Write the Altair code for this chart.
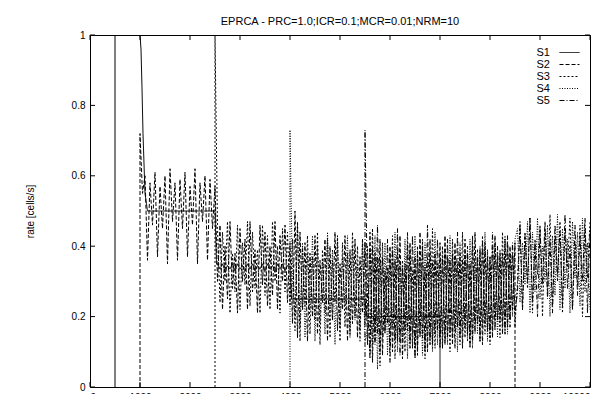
import altair as alt
import pandas as pd

FONT = "Liberation Sans"
TITLE = "EPRCA - PRC=1.0;ICR=0.1;MCR=0.01;NRM=10"
Y_TITLE = "rate [cells/s]"
SERIES = ["S1", "S2", "S3", "S4", "S5"]
DASHES = [[1, 0], [4, 2], [2, 2], [1, 1.5], [5, 2, 1, 2]]
X_TICKS = [0, 1000, 2000, 3000, 4000, 5000, 6000, 7000, 8000, 9000, 10000]
Y_TICKS = [0, 0.2, 0.4, 0.6, 0.8, 1.0]
STEP = 50  # sampling interval of the rate traces

# S1: mostly steady
S1_HEAD_T = [500, 500, 1000, 1020, 1040, 1060, 1100, 1150, 2500, 2530]
S1_HEAD_V = [0.0, 1.0, 1.0, 0.96, 0.85, 0.72, 0.55, 0.50, 0.50, 0.35]
S1_MID_T0 = 2550
S1_MID_V = [0.35, 0.335, 0.35, 0.33, 0.345, 0.335, 0.35, 0.33, 0.35, 0.335,
            0.345, 0.33, 0.35, 0.335, 0.35, 0.33, 0.345, 0.335, 0.35, 0.33,
            0.35, 0.335, 0.345, 0.33, 0.35, 0.335, 0.35, 0.33, 0.345, 0.34]
S1_TAIL_T = [4030, 5500, 5530, 7000, 7000]
S1_TAIL_V = [0.25, 0.25, 0.20, 0.20, 0.0]

S2_T0, S2_END = 1000, 8500
S2_V = [
    0.72, 0.55, 0.60, 0.36, 0.58, 0.46, 0.61, 0.37, 0.57, 0.45, 0.60, 0.35, 0.62, 0.47, 0.58, 0.36,
    0.59, 0.45, 0.61, 0.37, 0.57, 0.46, 0.62, 0.35, 0.58, 0.47, 0.60, 0.36, 0.59, 0.45, 0.57,
    0.30, 0.46, 0.22, 0.40, 0.25, 0.47, 0.28, 0.38, 0.21, 0.45, 0.30, 0.42, 0.22, 0.47, 0.27,
    0.39, 0.21, 0.46, 0.29, 0.44, 0.23, 0.40, 0.26, 0.47, 0.22, 0.43, 0.30, 0.46, 0.24, 0.41,
    0.18, 0.50, 0.14, 0.44, 0.22, 0.41, 0.13, 0.38, 0.20, 0.43, 0.15, 0.36, 0.24, 0.42, 0.13,
    0.40, 0.19, 0.44, 0.16, 0.35, 0.22, 0.43, 0.13, 0.39, 0.18, 0.42, 0.14, 0.37, 0.21, 0.41,
    0.12, 0.44, 0.07, 0.38, 0.15, 0.42, 0.09, 0.33, 0.18, 0.40, 0.10, 0.36, 0.13, 0.43, 0.08,
    0.35, 0.16, 0.41, 0.11, 0.37, 0.09, 0.44, 0.14, 0.34, 0.10, 0.42, 0.12, 0.38, 0.16, 0.41,
    0.11, 0.43, 0.14, 0.36, 0.12, 0.41, 0.17, 0.38, 0.11, 0.42, 0.15, 0.35, 0.13, 0.44, 0.18,
    0.39, 0.12, 0.41, 0.16, 0.37, 0.14, 0.43, 0.19, 0.38, 0.15, 0.42, 0.17, 0.40, 0.22, 0.41,
]

S3_T0 = 2500
S3_V = [
    1.00, 0.45, 0.24, 0.44, 0.30, 0.47, 0.21, 0.38, 0.27, 0.46, 0.22, 0.41, 0.29, 0.47, 0.23, 0.44,
    0.28, 0.39, 0.21, 0.46, 0.26, 0.43, 0.22, 0.47, 0.30, 0.40, 0.21, 0.45, 0.27, 0.44, 0.23,
    0.42, 0.16, 0.47, 0.13, 0.40, 0.23, 0.43, 0.15, 0.37, 0.19, 0.44, 0.12, 0.39, 0.21, 0.42,
    0.14, 0.36, 0.24, 0.43, 0.13, 0.41, 0.17, 0.38, 0.15, 0.44, 0.20, 0.40, 0.13, 0.42, 0.18,
    0.40, 0.10, 0.45, 0.13, 0.37, 0.06, 0.41, 0.16, 0.34, 0.11, 0.43, 0.08, 0.39, 0.14, 0.36,
    0.10, 0.44, 0.12, 0.33, 0.09, 0.40, 0.15, 0.42, 0.08, 0.37, 0.13, 0.45, 0.11, 0.35, 0.14,
    0.40, 0.13, 0.37, 0.10, 0.42, 0.16, 0.35, 0.12, 0.44, 0.14, 0.38, 0.11, 0.41, 0.17, 0.36,
    0.13, 0.43, 0.15, 0.39, 0.12, 0.40, 0.18, 0.37, 0.14, 0.44, 0.16, 0.41, 0.19, 0.38, 0.17,
    0.30, 0.47, 0.22, 0.44, 0.28, 0.48, 0.21, 0.42, 0.32, 0.46, 0.20, 0.45, 0.27, 0.49, 0.23,
    0.43, 0.30, 0.47, 0.21, 0.44, 0.34, 0.48, 0.22, 0.41, 0.29, 0.46, 0.20, 0.45, 0.31, 0.47,
]

S4_T0 = 4000
S4_V = [
    0.73, 0.30, 0.20, 0.46, 0.17, 0.41, 0.14, 0.38, 0.22, 0.43, 0.13, 0.40, 0.18, 0.36, 0.15, 0.44,
    0.21, 0.39, 0.12, 0.42, 0.17, 0.37, 0.23, 0.43, 0.14, 0.40, 0.19, 0.35, 0.16, 0.42, 0.13,
    0.16, 0.39, 0.12, 0.43, 0.05, 0.36, 0.14, 0.41, 0.09, 0.38, 0.17, 0.44, 0.10, 0.35, 0.13,
    0.42, 0.08, 0.39, 0.15, 0.43, 0.11, 0.36, 0.09, 0.41, 0.14, 0.38, 0.10, 0.44, 0.12, 0.37,
    0.15, 0.39, 0.12, 0.43, 0.14, 0.37, 0.10, 0.41, 0.16, 0.38, 0.13, 0.42, 0.11, 0.36, 0.15,
    0.40, 0.17, 0.44, 0.13, 0.37, 0.16, 0.41, 0.14, 0.39, 0.18, 0.43, 0.15, 0.38, 0.20, 0.42,
    0.45, 0.24, 0.41, 0.29, 0.47, 0.21, 0.44, 0.27, 0.48, 0.25, 0.40, 0.30, 0.46, 0.20, 0.43,
    0.26, 0.49, 0.22, 0.45, 0.28, 0.42, 0.21, 0.47, 0.31, 0.44, 0.23, 0.48, 0.27, 0.41, 0.22,
]

S5_T0 = 5500
S5_V = [
    0.73, 0.25, 0.08, 0.40, 0.12, 0.46, 0.10, 0.37, 0.15, 0.42, 0.07, 0.39, 0.13, 0.45, 0.09, 0.34,
    0.16, 0.41, 0.11, 0.43, 0.08, 0.38, 0.14, 0.40, 0.10, 0.46, 0.12, 0.36, 0.15, 0.42, 0.11,
    0.37, 0.12, 0.42, 0.16, 0.38, 0.11, 0.44, 0.14, 0.36, 0.17, 0.40, 0.12, 0.43, 0.15, 0.39,
    0.13, 0.41, 0.18, 0.37, 0.14, 0.44, 0.16, 0.40, 0.19, 0.38, 0.15, 0.43, 0.17, 0.41, 0.21,
    0.27, 0.46, 0.22, 0.43, 0.30, 0.48, 0.24, 0.41, 0.20, 0.45, 0.29, 0.47, 0.25, 0.42, 0.21,
    0.46, 0.32, 0.44, 0.23, 0.49, 0.28, 0.40, 0.22, 0.46, 0.26, 0.43, 0.30, 0.48, 0.21, 0.45,
]

rows = []


def add(name, pts):
    for t, v in pts:
        rows.append({"series": name, "t": t, "rate": v, "i": len(rows)})


def grid(t0, vals):
    return [(t0 + STEP * k, v) for k, v in enumerate(vals)]


add("S1", list(zip(S1_HEAD_T, S1_HEAD_V)) + grid(S1_MID_T0, S1_MID_V) + list(zip(S1_TAIL_T, S1_TAIL_V)))
add("S2", [(S2_T0, 0.0)] + grid(S2_T0, S2_V) + [(S2_END, 0.0)])
add("S3", [(S3_T0, 0.0)] + grid(S3_T0, S3_V))
add("S4", [(S4_T0, 0.0)] + grid(S4_T0, S4_V))
add("S5", [(S5_T0, 0.0)] + grid(S5_T0, S5_V))
df = pd.DataFrame(rows)

W, H = 500, 352
x_scale = alt.Scale(domain=[0, 10000], nice=False, zero=False)
y_scale = alt.Scale(domain=[0, 1], nice=False)

X_ENC = alt.X("t:Q", scale=x_scale, axis=alt.Axis(
    values=X_TICKS, format="d", title=None, ticks=False, domain=False, grid=False,
    labelPadding=5, labelFontSize=10, labelFont=FONT, labelColor="black"))
Y_ENC = alt.Y("rate:Q", scale=y_scale, axis=alt.Axis(
    values=Y_TICKS, format="~g", title=Y_TITLE, ticks=False, domain=False, grid=False,
    labelPadding=5, labelFontSize=10, labelFont=FONT, labelColor="black",
    titleFont=FONT, titleFontSize=10, titleFontWeight="normal", titleColor="black",
    titleX=-60, titleY=H / 2, titleBaseline="middle", titleAngle=270))

lines = alt.Chart(df).mark_line(color="black", strokeWidth=1, clip=True).encode(
    x=X_ENC,
    y=Y_ENC,
    strokeDash=alt.StrokeDash("series:N", scale=alt.Scale(domain=SERIES, range=DASHES),
                              legend=alt.Legend(
                                  title=None, orient="none", legendX=474, legendY=12,
                                  symbolType="M-2,0H2", symbolSize=100, symbolStrokeWidth=1,
                                  symbolStrokeColor="black", labelFont=FONT, labelFontSize=11,
                                  labelColor="black", labelAlign="right",
                                  labelOffset={"expr": "-25"},
                                  rowPadding=0, padding=0)),
    order=alt.Order("i:Q"),
)

xt = pd.DataFrame({"t": X_TICKS})
yt = pd.DataFrame({"rate": Y_TICKS})
tick_bottom = alt.Chart(xt).mark_rule(color="black", strokeWidth=1).encode(
    x=X_ENC, y=alt.value(H), y2=alt.value(H - 5))
tick_top = alt.Chart(xt).mark_rule(color="black", strokeWidth=1).encode(
    x=X_ENC, y=alt.value(0), y2=alt.value(5))
tick_left = alt.Chart(yt).mark_rule(color="black", strokeWidth=1).encode(
    y=Y_ENC, x=alt.value(0), x2=alt.value(5))
tick_right = alt.Chart(yt).mark_rule(color="black", strokeWidth=1).encode(
    y=Y_ENC, x=alt.value(W), x2=alt.value(W - 5))

chart = alt.layer(lines, tick_bottom, tick_top, tick_left, tick_right).properties(
    width=W, height=H,
    title=alt.TitleParams(TITLE, font=FONT, fontSize=11, fontWeight="normal", color="black",
                          anchor="middle", baseline="alphabetic", offset=0, dy=6),
    autosize=alt.AutoSizeParams(type="none"),
    padding={"left": 82, "top": 27, "right": 15, "bottom": 7},
    background="white",
).configure_view(stroke="black", strokeWidth=1)

chart.save("out.html", embed_options={"renderer": "svg", "actions": False})
